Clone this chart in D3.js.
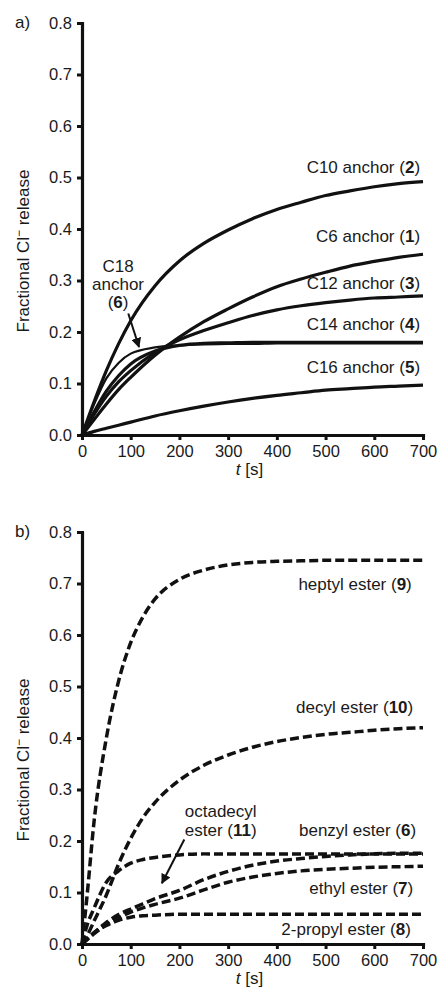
<!DOCTYPE html>
<html>
<head>
<meta charset="utf-8">
<script src="https://cdn.jsdelivr.net/npm/d3@7"></script>
<style>
	body { margin: 0; background: #fff; }
	svg text { font-family: "Liberation Sans", Arial, sans-serif; fill: #1a1a1a; }
	.label { font-size: 17px; }
</style>
</head>
<body>
<div id="app"></div>
<script>

// time points (s)
var timesA = [0, 25, 50, 75, 100, 150, 200, 250, 300, 350, 400, 450, 500, 550, 600, 650, 700]
var timesB = [0, 10, 25, 50, 75, 100, 125, 150, 200, 250, 300, 350, 400, 450, 500, 550, 600, 650, 700]

// panel a) - anchors, fractional Cl- release
var c6Anchor  = [0, .03, .06, .088, .112, .155, .19, .22, .245, .268, .288, .303, .316, .328, .337, .345, .351]
var c10Anchor = [0, .065, .125, .177, .222, .29, .338, .372, .398, .42, .438, .452, .465, .474, .482, .488, .492]
var c12Anchor = [0, .04, .075, .103, .125, .16, .185, .203, .218, .232, .243, .251, .257, .262, .266, .268, .27]
var c14Anchor = [0, .045, .085, .115, .138, .163, .174, .178, .179, .18, .18, .18, .18, .18, .18, .18, .18]
var c16Anchor = [0, .007, .013, .019, .025, .037, .047, .056, .064, .071, .077, .082, .087, .09, .093, .095, .097]
var c18Anchor = [0, .06, .11, .14, .158, .17, .174, .176, .177, .177, .178, .178, .178, .178, .178, .178, .178]

// panel b) - esters
var heptylEster    = [0, .09, .24, .40, .51, .585, .635, .67, .708, .726, .736, .741, .743, .744, .745, .745, .745, .745, .745]
var decylEster     = [0, .015, .045, .095, .155, .205, .245, .275, .318, .347, .367, .382, .393, .401, .407, .411, .415, .418, .42]
var benzylEster    = [0, .035, .07, .12, .142, .157, .164, .168, .173, .175, .175, .175, .175, .175, .175, .175, .175, .175, .175]
var octadecylEster = [0, .009, .022, .042, .057, .068, .078, .088, .104, .125, .141, .153, .161, .166, .17, .173, .175, .176, .176]
var ethylEster     = [0, .008, .02, .038, .051, .062, .07, .077, .089, .105, .12, .13, .137, .142, .145, .147, .149, .15, .151]
var propylEster    = [0, .01, .022, .036, .046, .052, .055, .056, .058, .058, .058, .058, .058, .058, .058, .058, .058, .058, .058]

var xTicks = [0, 100, 200, 300, 400, 500, 600, 700]
var yTicks = [0, .1, .2, .3, .4, .5, .6, .7, .8]

var width = 439, height = 991

var svg = d3.select("#app").append("svg")
	.attr("width", width)
	.attr("height", height)

var defs = svg.append("defs")

defs.append("marker")
	.attr("id", "head")
	.attr("viewBox", "0 0 10 10")
	.attr("refX", 9)
	.attr("refY", 5)
	.attr("markerWidth", 5)
	.attr("markerHeight", 5)
	.attr("orient", "auto")
	.append("path")
	.attr("d", "M0,0L10,5L0,10z")
	.attr("fill", "#111")

var plotW = 341, plotH = 412

var x = d3.scaleLinear().domain([0, 700]).range([0, plotW])
var y = d3.scaleLinear().domain([0, 0.8]).range([plotH, 0])

function panel(top, letter) {

	var g = svg.append("g").attr("transform", `translate(82,${top})`)

	g.append("g")
		.call(d3.axisLeft(y).tickValues(yTicks).tickFormat(d3.format(".1f")).tickSize(5).tickSizeOuter(0).tickPadding(5))

	g.append("g")
		.attr("transform", `translate(0,${plotH})`)
		.call(d3.axisBottom(x).tickValues(xTicks).tickSize(5).tickSizeOuter(0).tickPadding(5))

	g.selectAll(".domain").attr("stroke", "#111").attr("stroke-width", 3.2).attr("stroke-linecap", "square")
	g.selectAll(".tick line").attr("stroke", "#111").attr("stroke-width", 3)
	g.selectAll(".tick text").attr("fill", "#1a1a1a").attr("font-size", 16.5)

	// y title, with superscript minus on Cl
	var yt = svg.append("text")
		.attr("class", "label")
		.attr("transform", `translate(29,${top + 228}) rotate(-90)`)
		.attr("text-anchor", "middle")

	yt.append("tspan").text("Fractional Cl")
	yt.append("tspan").attr("dy", -6).attr("font-size", 12).text("\u2212")
	yt.append("tspan").attr("dy", 6).text(" release")

	var xt = svg.append("text")
		.attr("class", "label")
		.attr("x", 82 + plotW / 2 - 3)
		.attr("y", top + plotH + 40)
		.attr("text-anchor", "middle")

	xt.append("tspan").attr("font-style", "italic").text("t")
	xt.append("tspan").text(" [s]")

	svg.append("text")
		.attr("class", "label")
		.attr("x", 15)
		.attr("y", top + 5)
		.text(letter)

	return g

}

var line = function(times) {
	return d3.line()
		.x((d, i) => x(times[i]))
		.y(d => y(d))
		.curve(d3.curveMonotoneX)
}

function addLabel(g, t, v, parts, anchor) {
	var txt = g.append("text")
		.attr("class", "label")
		.attr("x", x(t))
		.attr("y", y(v))
		.attr("text-anchor", anchor || "end")
	parts.forEach(function(p, i) {
		txt.append("tspan")
			.attr("font-weight", (i == 1) ? "bold" : "normal")
			.text(p)
	})
}

function addArrow(g, t0, v0, t1, v1) {
	g.append("line")
		.attr("x1", x(t0)).attr("y1", y(v0))
		.attr("x2", x(t1)).attr("y2", y(v1))
		.attr("stroke", "#111")
		.attr("stroke-width", 2)
		.attr("marker-end", "url(#head)")
}

// a)

var gA = panel(23, "a)")

var seriesA = [c16Anchor, c6Anchor, c12Anchor, c14Anchor, c10Anchor]

gA.selectAll(".curve").data(seriesA)
	.enter()
	.append("path")
	.attr("class", "curve")
	.attr("fill", "none")
	.attr("stroke", "#111")
	.attr("stroke-width", 3.2)
	.attr("d", d => line(timesA)(d))

gA.append("path")
	.attr("fill", "none")
	.attr("stroke", "#111")
	.attr("stroke-width", 2.2)
	.attr("d", line(timesA)(c18Anchor))

addLabel(gA, 694, .509, ["C10 anchor (", "2", ")"])
addLabel(gA, 694, .375, ["C6 anchor (", "1", ")"])
addLabel(gA, 694, .283, ["C12 anchor (", "3", ")"])
addLabel(gA, 694, .204, ["C14 anchor (", "4", ")"])
addLabel(gA, 694, .120, ["C16 anchor (", "5", ")"])

addLabel(gA, 74, .316, ["C18"], "middle")
addLabel(gA, 74, .282, ["anchor"], "middle")
addLabel(gA, 74, .247, ["(", "6", ")"], "middle")

addArrow(gA, 95, .236, 117, .171)

// b)

var gB = panel(532, "b)")

var seriesB = [propylEster, ethylEster, octadecylEster, benzylEster, decylEster, heptylEster]

gB.selectAll(".curve").data(seriesB)
	.enter()
	.append("path")
	.attr("class", "curve")
	.attr("fill", "none")
	.attr("stroke", "#111")
	.attr("stroke-width", 3.5)
	.attr("stroke-dasharray", "9,4")
	.attr("d", d => line(timesB)(d))

addLabel(gB, 677, .687, ["heptyl ester (", "9", ")"])
addLabel(gB, 680, .449, ["decyl ester (", "10", ")"])
addLabel(gB, 686, .210, ["benzyl ester (", "6", ")"])
addLabel(gB, 680, .098, ["ethyl ester (", "7", ")"])
addLabel(gB, 675, .017, ["2-propyl ester (", "8", ")"])

addLabel(gB, 211, .247, ["octadecyl"], "start")
addLabel(gB, 211, .210, ["ester (", "11", ")"], "start")

addArrow(gB, 210, .203, 164, .118)

</script>
</body>
</html>
